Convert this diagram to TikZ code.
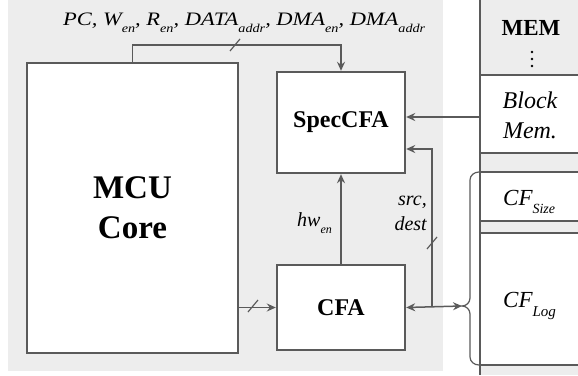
\documentclass[tikz,border=0pt]{standalone}
\usepackage{fontspec}
\setmainfont{Liberation Serif}
\usetikzlibrary{arrows.meta,calc}
\definecolor{bggray}{HTML}{EDEDED}
\definecolor{lgray}{HTML}{5A5A5A}
\tikzset{
  blk/.style={draw=lgray,line width=2.4pt,fill=white,inner sep=0pt,font=\bfseries},
  conn/.style={draw=lgray,line width=1.5pt},
  tip/.style={-{Stealth[length=9pt,width=8pt,inset=3pt]}},
  slash/.style={draw=lgray,line width=1.2pt},
  memline/.style={draw=lgray,line width=1.6pt},
  lbl/.style={font=\itshape,inner sep=0pt}
}
\newcommand{\sbsz}[3]{\raisebox{-#2}{\fontsize{#1}{#1}\selectfont #3}}
\begin{document}
\begin{tikzpicture}[x=1pt,y=-1pt]
\useasboundingbox (0,0) rectangle (578,375);
% backgrounds
\fill[bggray] (8,0) rectangle (443,371);
\fill[bggray] (480,0) rectangle (578,375);
\fill[white] (480,75) rectangle (578,153);
\fill[white] (480,172) rectangle (578,221);
\fill[white] (480,233) rectangle (578,365);
\foreach \yy in {75,153,172,221,233,365} \draw[memline] (480,\yy) -- (578,\yy);
\draw[draw=lgray,line width=2.6pt] (480,0) -- (480,375);
% blocks
\node[blk,minimum width=211pt,minimum height=290pt,font=\bfseries\fontsize{33}{40}\selectfont,align=center] (mcu) at (132.5,208) {MCU\\Core};
\node[blk,minimum width=128pt,minimum height=101pt,font=\bfseries\fontsize{24}{28}\selectfont] (spec) at (341,122.5) {SpecCFA};
\node[blk,minimum width=128pt,minimum height=85pt,font=\bfseries\fontsize{24}{28}\selectfont] (cfa) at (341,307.5) {CFA};
% memory labels
\node[font=\bfseries\fontsize{23}{26}\selectfont,inner sep=0pt,anchor=base] (mem) at (531,35) {MEM};
\foreach \dy in {52,59,66} \fill[black] (532,\dy) circle (1.3);
\node[lbl,align=center,font=\itshape\fontsize{24}{30}\selectfont,anchor=base] (blockmem) at (530,138) {Block\\Mem.};
\node[lbl,font=\itshape\fontsize{23}{26}\selectfont,anchor=base west] (cfsize) at (503,205) {CF\sbsz{14}{8pt}{Size}};
\node[lbl,font=\itshape\fontsize{23}{26}\selectfont,anchor=base west] (cflog) at (503,307) {CF\sbsz{15}{9pt}{Log}};
% top bus
\node[lbl,font=\itshape\fontsize{19}{22}\selectfont,anchor=base west] (buslbl) at (63,25) {\resizebox{362pt}{\height}{PC, W\sbsz{12}{7pt}{en}, R\sbsz{12}{7pt}{en}, DATA\sbsz{12}{7pt}{addr}, DMA\sbsz{12}{7pt}{en}, DMA\sbsz{12}{7pt}{addr}}};
\draw[conn,tip] (mcu.north) -- ++(0,-17) coordinate (b1) -| (spec.north);
\draw[slash] (235,45) ++(-5,6) -- ++(10,-12);
% hw_en
\draw[conn,tip] (cfa.north) -- (spec.south);
\node[lbl,font=\itshape\fontsize{20}{22}\selectfont,anchor=base west] (hwen) at (297,226) {hw\sbsz{12}{7pt}{en}};
% MCU -> CFA
\draw[conn,tip] (mcu.east |- cfa.west) -- (cfa.west);
\draw[slash] (253,306) ++(-5,6) -- ++(10,-12);
% brace
\coordinate (btip) at (462,306);
\draw[conn,line width=1.2pt] (479,172) to[out=180,in=90] (470,180) -- (470,298) to[out=-90,in=0] (btip) to[out=0,in=90] (470,314) -- (470,357) to[out=-90,in=180] (479,365);
% CFA <-> brace
\draw[conn,{Stealth[length=9pt,width=8pt,inset=3pt]}-{Stealth[length=9pt,width=8pt,inset=3pt]}] (cfa.east) -- (btip);
% src,dest
\coordinate (sd) at (432,306);
\draw[conn,tip] (sd) -- (432,149) -- (spec.east |- 0,149);
\draw[slash] (432,243) ++(-5,6) -- ++(10,-12);
\node[lbl,align=right,font=\itshape\fontsize{20}{25}\selectfont,anchor=base east] (srcdest) at (427,230) {src,\\dest};
% block mem -> spec
\draw[conn,tip] (480,117) -- (spec.east |- 0,117);
\end{tikzpicture}
\end{document}
